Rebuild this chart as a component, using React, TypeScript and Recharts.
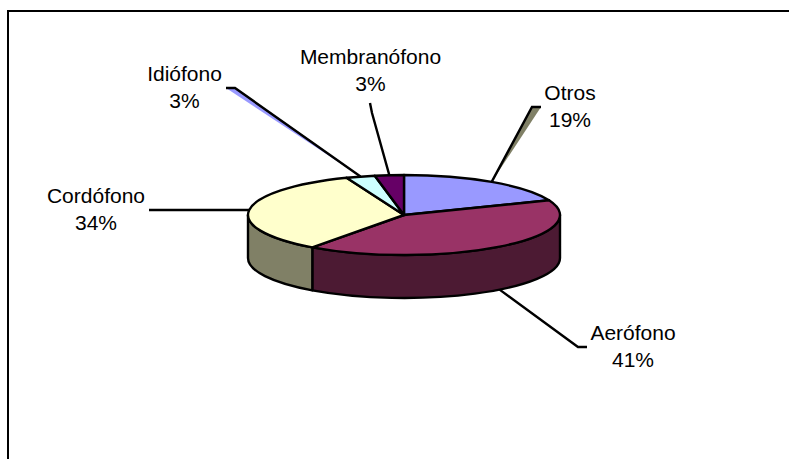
import { PieChart, Pie } from 'recharts'

const CATEGORIES = ['Otros', 'Aerófono', 'Cordófono', 'Idiófono', 'Membranófono']
const VALUES = [19, 41, 34, 3, 3]
const TOP_COLORS = ['#9999FF', '#993366', '#FFFFCC', '#CCFFFF', '#660066']
const SIDE_COLORS = ['#4C4C80', '#4C1A33', '#808066', '#668080', '#330033']

// pie squashed to an ellipse, with a wall below it
const CX = 404
const CY = 215
const RX = 156
const RY = 40
const DEPTH = 43
const LINE_W = 2.4

// leader line bends and ends, then text centre and the two baselines
const LEADER_BENDS = [[532, 107], [578, 347], [249, 210], [235, 88], [372, 113]]
const LEADER_ENDS = [[541, 107], [587, 347], [149, 210], [226, 88], [370, 103]]
const LABEL_X = [570, 633, 96, 184.5, 370.5]
const LABEL_Y = [100, 340, 203, 81, 64]
const LINE_GAP = 27
// the two leaders that carry a coloured sliver in the original
const SLIVERS: Record<number, string> = { 0: '#808066', 3: '#9999FF' }

const tableData = CATEGORIES.map((name, i) => ({
  name,
  value: VALUES[i],
  fill: TOP_COLORS[i],
  side: SIDE_COLORS[i],
}))

const rad = (a: number) => (a * Math.PI) / 180
const px = (a: number) => CX + RX * Math.cos(rad(a))
const py = (a: number) => CY - RY * Math.sin(rad(a))

// top face of a slice
function TopSlice(props: any) {
  const { startAngle, endAngle, fill } = props
  const large = Math.abs(startAngle - endAngle) > 180 ? 1 : 0
  const d = `M${CX},${CY} L${px(startAngle)},${py(startAngle)} A${RX},${RY} 0 ${large} 1 ${px(endAngle)},${py(endAngle)} Z`
  return <path d={d} fill={fill} stroke="#000" strokeWidth={LINE_W} strokeLinejoin="round" />
}

// wall of a slice, only the part on the front half of the ellipse
function WallSlice(props: any) {
  const { startAngle, endAngle, payload } = props
  const hi = Math.min(startAngle, 0)
  const lo = Math.max(endAngle, -180)
  if (hi <= lo) return <g />
  const d =
    `M${px(hi)},${py(hi)} A${RX},${RY} 0 0 1 ${px(lo)},${py(lo)} ` +
    `L${px(lo)},${py(lo) + DEPTH} A${RX},${RY} 0 0 0 ${px(hi)},${py(hi) + DEPTH} Z`
  return <path d={d} fill={payload.side} stroke="#000" strokeWidth={LINE_W} strokeLinejoin="round" />
}

function SliceLabel(props: any) {
  const { index, midAngle, name, percent } = props
  const sx = px(midAngle)
  // leaders on the front half start from the bottom edge of the wall
  const sy = py(midAngle) + (Math.sin(rad(midAngle)) < -0.3 ? DEPTH : 0)
  const [bx, by] = LEADER_BENDS[index]
  const [ex, ey] = LEADER_ENDS[index]
  return (
    <g>
      {SLIVERS[index] && (
        <polygon points={`${sx},${sy} ${bx},${by} ${ex},${ey}`} fill={SLIVERS[index]} stroke="none" />
      )}
      <polyline points={`${sx},${sy} ${bx},${by} ${ex},${ey}`} fill="none" stroke="#000" strokeWidth={LINE_W} />
      <text textAnchor="middle" fontFamily="Liberation Sans" fontSize={21} fill="#000">
        <tspan x={LABEL_X[index]} y={LABEL_Y[index]}>{name}</tspan>
        <tspan x={LABEL_X[index]} y={LABEL_Y[index] + LINE_GAP}>{`${Math.round(percent * 100)}%`}</tspan>
      </text>
    </g>
  )
}

export default function App() {
  return (
    <div style={{ position: 'fixed', left: 0, top: 0, width: 789, height: 459, background: '#fff', overflow: 'hidden' }}>
      <div
        style={{
          position: 'absolute',
          left: 7,
          top: 10,
          width: 782,
          height: 449,
          borderTop: '2px solid #000',
          borderLeft: '2px solid #000',
        }}
      />
      <div style={{ position: 'absolute', left: 0, top: 0 }}>
        <PieChart width={789} height={459} margin={{ top: 0, right: 0, bottom: 0, left: 0 }}>
          <Pie
            data={tableData}
            dataKey="value"
            nameKey="name"
            cx={CX}
            cy={CY}
            outerRadius={RX}
            startAngle={90}
            endAngle={-270}
            stroke="none"
            isAnimationActive={false}
            shape={WallSlice}
            label={false}
            labelLine={false}
          />
          <Pie
            data={tableData}
            dataKey="value"
            nameKey="name"
            cx={CX}
            cy={CY}
            outerRadius={RX}
            startAngle={90}
            endAngle={-270}
            stroke="none"
            isAnimationActive={false}
            shape={TopSlice}
            label={SliceLabel}
            labelLine={false}
          />
        </PieChart>
      </div>
    </div>
  )
}
